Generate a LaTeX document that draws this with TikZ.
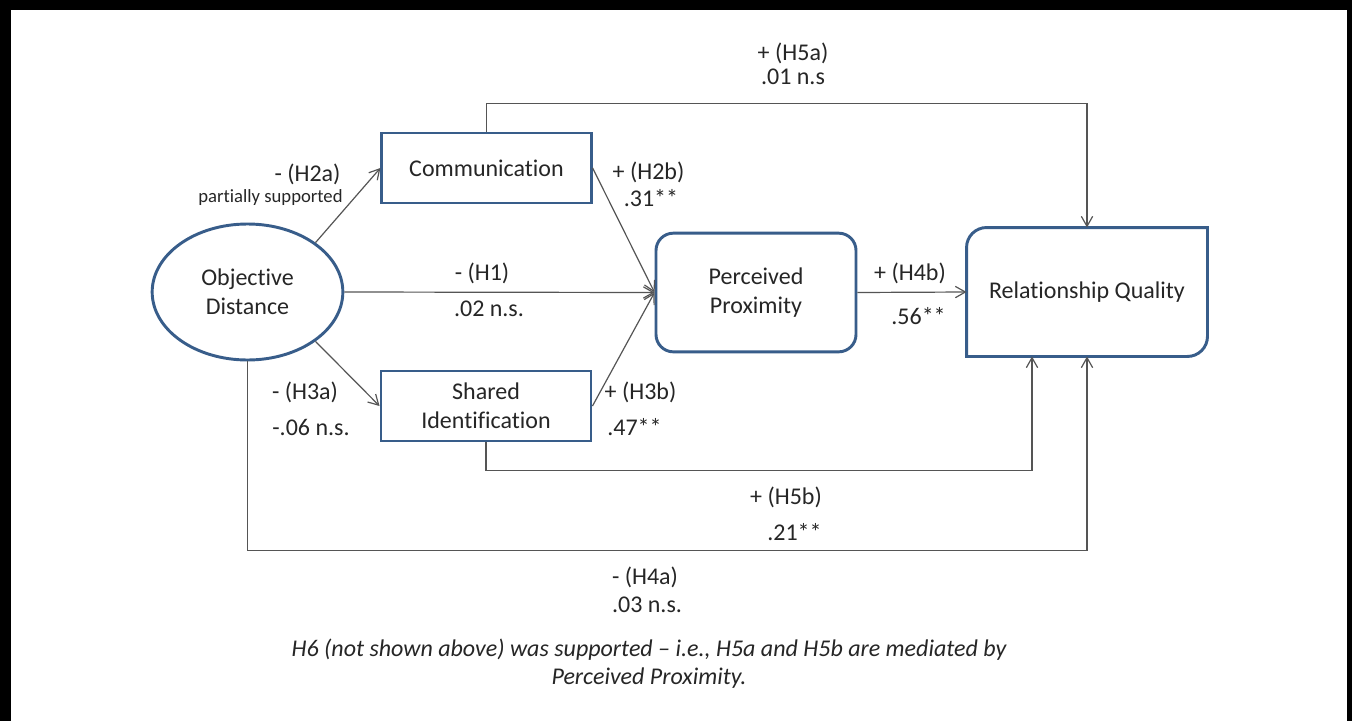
\documentclass[tikz,border=0pt]{standalone}
\usepackage{fontspec}
\setmainfont[Ligatures=NoCommon]{Carlito}
\usetikzlibrary{arrows.meta,shapes.geometric}
\definecolor{boxblue}{RGB}{56,93,138}
\definecolor{conngray}{RGB}{85,85,85}
\definecolor{txt}{RGB}{38,38,38}
\begin{document}
\begin{tikzpicture}[x=0.75pt,y=-0.75pt,
  every node/.style={text=txt,font=\fontsize{18pt}{21.75pt}\selectfont},
  sqbox/.style={draw=boxblue,line width=2.2pt,rectangle,inner sep=0pt,align=center},
  rbox/.style={sqbox,rounded corners=13pt},
  ellnode/.style={draw=boxblue,line width=2.2pt,ellipse,inner sep=0pt,align=center},
  conn/.style={draw=conngray,line width=0.9pt},
  arr/.style={conn,-{Straight Barb[length=7.5pt,width=8.5pt]}},
  lbl/.style={inner sep=0pt},
  small/.style={inner sep=0pt,font=\fontsize{14pt}{16pt}\selectfont},
  note/.style={inner sep=0pt,align=center,font=\fontsize{18pt}{21pt}\selectfont\itshape}
]
\useasboundingbox (0,0) rectangle (1352,721);
\fill[white] (0,0) rectangle (1352,721);
% frame
\fill[black] (0,0) rectangle (1352,10);
\fill[black] (0,0) rectangle (11,721);
\fill[black] (1347,0) rectangle (1352,721);

% nodes
\node[ellnode,minimum width=143pt,minimum height=102pt] (od) at (247.5,292) {Objective\\Distance};
\node[sqbox,minimum width=157pt,minimum height=52.5pt] (comm) at (486.5,168) {Communication};
\node[sqbox,minimum width=157.5pt,minimum height=52.5pt] (shared) at (486,406) {Shared\\Identification};
\node[rbox,minimum width=150pt,minimum height=89pt] (pp) at (756,292.5) {Perceived\\Proximity};
\node[inner sep=0pt,outer sep=1.1pt,minimum width=178.5pt,minimum height=94.5pt,align=center] (rq) at (1087,292) {Relationship Quality};
\draw[boxblue,line width=2.2pt] (rq.north east) -- ([xshift=15pt]rq.north west)
  arc[start angle=90,end angle=180,radius=15pt] -- (rq.south west)
  -- ([xshift=-15pt]rq.south east) arc[start angle=270,end angle=360,radius=15pt] -- cycle;
\coordinate (rqb) at ([xshift=-41.25pt]rq.south);

% connectors
\draw[arr] (od.36) -- (comm.west);
\draw[arr] (od.-36) -- (shared.west);
\draw[arr] (od.east) -- (pp.west);
\draw[arr] (comm.east) -- (pp.west);
\draw[arr] (shared.east) -- (pp.west);
\draw[arr] (pp.east) -- (rq.west);
\draw[arr] (comm.north) -- ++(0,-28) -| (rq.north);
\draw[arr] (shared.south) -- ++(0,28) -| (rqb);
\draw[arr] (od.south) -- ++(0,189) -| (rq.south);

% labels
\node[lbl] (l5a) at (793,53) {+ (H5a)};
\node[lbl] (v5a) at (793,76.5) {.01 n.s};
\node[lbl] (l2a) at (307.5,174) {- (H2a)};
\node[small] (p2a) at (270.5,197.5) {partially supported};
\node[lbl] (l2b) at (648.5,172.5) {+ (H2b)};
\node[lbl] (v2b) at (651,198) {.31**};
\node[lbl] (l1) at (482,273) {- (H1)};
\node[lbl] (v1) at (489,309) {.02 n.s.};
\node[lbl] (l4b) at (910,273) {+ (H4b)};
\node[lbl] (v4b) at (918.5,316.5) {.56**};
\node[lbl] (l3a) at (305,392.5) {- (H3a)};
\node[lbl] (v3a) at (311,427.5) {-.06 n.s.};
\node[lbl] (l3b) at (640.5,392.5) {+ (H3b)};
\node[lbl] (v3b) at (634.5,427) {.47**};
\node[lbl] (l5b) at (786,497.5) {+ (H5b)};
\node[lbl] (v5b) at (794.5,532) {.21**};
\node[lbl] (l4a) at (645,577.5) {- (H4a)};
\node[lbl] (v4a) at (647,605) {.03 n.s.};
\node[note] (nt) at (649,664) {H6 (not shown above) was supported – i.e., H5a and H5b are mediated by\\Perceived Proximity.};
\end{tikzpicture}
\end{document}
